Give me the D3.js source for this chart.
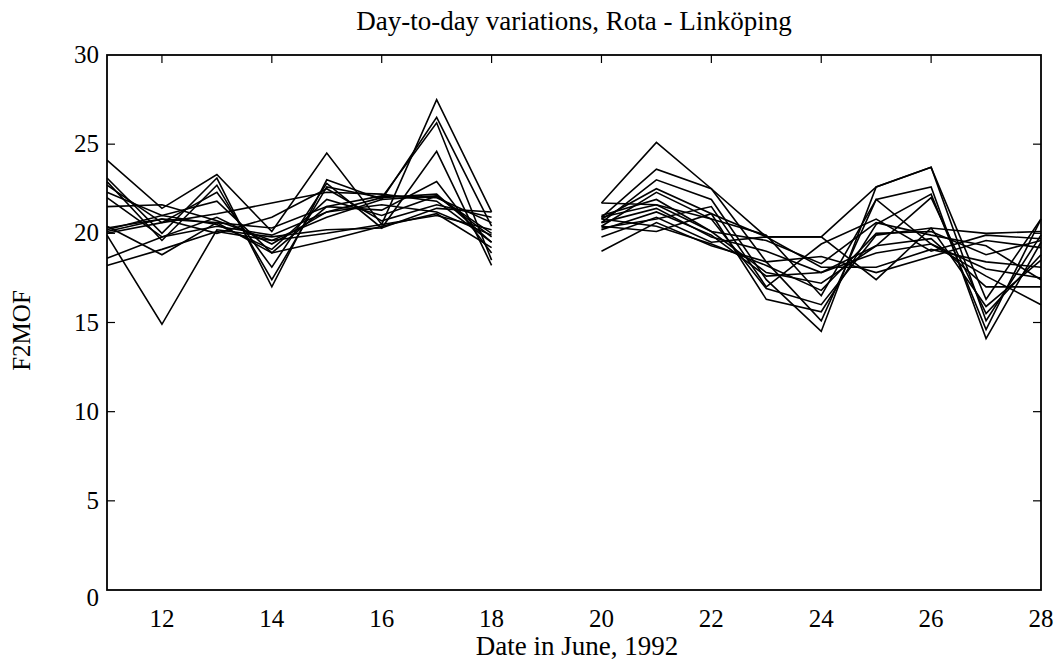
<!DOCTYPE html>
<html>
<head>
<meta charset="utf-8">
<script src="https://cdn.jsdelivr.net/npm/d3@7"></script>
<style>
  body { margin: 0; background: #fff; }
  text { font-family: "Liberation Serif", "DejaVu Serif", serif; fill: #000; }
</style>
</head>
<body>
<svg id="chart" width="1058" height="664"></svg>
<script>
const days = [11, 12, 13, 14, 15, 16, 17, 18, 19, 20, 21, 22, 23, 24, 25, 26, 27, 28];
const xTicks = [12, 14, 16, 18, 20, 22, 24, 26, 28];
const yTicks = [0, 5, 10, 15, 20, 25, 30];

// F2MOF per station pair, day 19 missing (null)
const s1 = [24.1, 21.4, 23.3, 20.1, 24.5, 20.5, 27.5, 21.2, null, 21.7, 25.1, 22.5, 19.8, 19.8, 22.6, 23.7, 16.3, 20.8];
const s2 = [23.1, 20.0, 23.1, 17.0, 23.0, 21.9, 26.5, 20.4, null, 20.9, 23.6, 22.5, 18.4, 15.1, 21.9, 22.6, 14.1, 19.5];
const s3 = [22.9, 19.6, 22.7, 17.4, 22.6, 22.0, 26.2, 18.5, null, 20.6, 23.0, 21.9, 17.4, 14.5, 22.6, 23.7, 15.1, 19.9];
const s4 = [22.7, 20.6, 22.3, 18.1, 22.8, 20.3, 24.6, 18.2, null, 20.8, 22.5, 21.1, 16.3, 15.6, 20.5, 22.2, 14.6, 20.8];
const s5 = [22.3, 21.0, 21.8, 18.9, 21.5, 21.3, 22.9, 18.9, null, 20.4, 22.3, 20.8, 16.9, 16.0, 19.9, 20.3, 15.9, 18.5];
const s6 = [22.0, 19.8, 20.9, 19.4, 21.2, 22.0, 22.2, 19.5, null, 21.7, 21.6, 20.1, 17.8, 17.2, 19.3, 19.7, 17.0, 17.0];
const s7 = [21.5, 21.6, 20.7, 19.6, 20.9, 21.9, 22.1, 19.8, null, 20.6, 21.4, 19.8, 19.0, 17.8, 18.9, 19.4, 17.6, 16.0];
const s8 = [20.3, 20.8, 20.6, 20.3, 21.5, 22.1, 22.0, 20.6, null, 19.8, 20.9, 19.5, 19.8, 18.1, 18.1, 19.1, 18.4, 18.1];
const s9 = [20.1, 20.8, 20.0, 20.9, 22.5, 20.7, 21.6, 20.9, null, 19.0, 20.6, 19.3, 18.4, 18.7, 17.8, 18.7, 19.6, 19.2];
const s10 = [19.9, 14.9, 20.2, 19.8, 20.2, 20.3, 21.4, 21.2, null, 20.4, 20.1, 21.1, 19.8, 19.8, 17.4, 20.3, 20.0, 20.1];
const s11 = [18.6, 19.8, 20.4, 19.9, 21.2, 21.6, 21.2, 19.9, null, 20.9, 21.6, 20.8, 19.9, 16.5, 21.9, 19.4, 18.0, 17.5];
const s12 = [18.2, 19.1, 20.1, 19.6, 20.0, 20.5, 21.0, 20.2, null, 20.2, 21.2, 19.9, 17.6, 17.8, 19.3, 22.0, 15.5, 18.8];
const s13 = [20.4, 18.8, 20.6, 18.9, 19.6, 20.4, 21.1, 19.2, null, 20.8, 20.4, 19.4, 18.2, 16.8, 20.0, 20.1, 18.8, 19.6];
const s14 = [20.2, 21.0, 20.5, 19.1, 21.9, 21.0, 22.1, 20.0, null, 21.0, 21.9, 20.1, 19.6, 18.3, 20.6, 19.9, 19.3, 17.4];
const s15 = [20.0, 20.6, 21.1, 21.7, 22.3, 22.2, 21.8, 19.5, null, 20.3, 20.8, 21.5, 17.0, 19.4, 20.8, 19.0, 19.9, 19.7];
const series = [s1, s2, s3, s4, s5, s6, s7, s8, s9, s10, s11, s12, s13, s14, s15];

const svg = d3.select("#chart");
const plotLeft = 107, plotRight = 1041, plotTop = 55, plotBottom = 590;
const fontSize = 25;
const labelSize = 27;

const x = d3.scaleLinear().domain([11, 28]).range([plotLeft, plotRight]);
const y = d3.scaleLinear().domain([0, 30]).range([plotBottom, plotTop]);

const line = d3.line()
    .defined((d) => d != null)
    .x((d, i) => x(days[i]))
    .y((d) => y(d));

svg.append("g")
    .selectAll("path")
    .data(series)
    .enter()
    .append("path")
    .attr("d", line)
    .attr("fill", "none")
    .attr("stroke", "#000")
    .attr("stroke-width", 1.6)
    .attr("stroke-linejoin", "miter");

// frame
svg.append("rect")
    .attr("x", plotLeft).attr("y", plotTop)
    .attr("width", plotRight - plotLeft).attr("height", plotBottom - plotTop)
    .attr("fill", "none")
    .attr("stroke", "#000")
    .attr("stroke-width", 1.8);

// inward ticks, MATLAB style
const tk = 8;
svg.append("g").selectAll("line")
    .data(xTicks.slice(0, -1))
    .enter().append("line")
    .attr("x1", (d) => x(d)).attr("x2", (d) => x(d))
    .attr("y1", plotTop).attr("y2", plotTop + tk)
    .attr("stroke", "#000").attr("stroke-width", 1.2);

svg.append("g").selectAll("line")
    .data(yTicks.slice(1, -1))
    .enter().append("line")
    .attr("x1", plotLeft).attr("x2", plotLeft + tk)
    .attr("y1", (d) => y(d)).attr("y2", (d) => y(d))
    .attr("stroke", "#000").attr("stroke-width", 1.2);

svg.append("g").selectAll("line")
    .data(yTicks.slice(1, -1))
    .enter().append("line")
    .attr("x1", plotRight).attr("x2", plotRight - tk)
    .attr("y1", (d) => y(d)).attr("y2", (d) => y(d))
    .attr("stroke", "#000").attr("stroke-width", 1.2);

// tick labels
svg.append("g").selectAll("text")
    .data(yTicks)
    .enter().append("text")
    .attr("x", plotLeft - 8)
    .attr("y", (d) => (d === 0 ? y(d) + 16 : y(d) + 8))
    .attr("text-anchor", "end")
    .attr("font-size", fontSize)
    .text((d) => d);

svg.append("g").selectAll("text")
    .data(xTicks)
    .enter().append("text")
    .attr("x", (d) => x(d))
    .attr("y", plotBottom + 37)
    .attr("text-anchor", "middle")
    .attr("font-size", fontSize)
    .text((d) => d);

svg.append("text")
    .attr("x", (plotLeft + plotRight) / 2)
    .attr("y", 30)
    .attr("text-anchor", "middle")
    .attr("font-size", labelSize)
    .text("Day-to-day variations, Rota - Linköping");

svg.append("text")
    .attr("x", (plotLeft + plotRight) / 2 + 3)
    .attr("y", 655)
    .attr("text-anchor", "middle")
    .attr("font-size", labelSize)
    .text("Date in June, 1992");

svg.append("text")
    .attr("transform", `translate(30, ${(plotTop + plotBottom) / 2 + 8}) rotate(-90)`)
    .attr("text-anchor", "middle")
    .attr("font-size", fontSize)
    .text("F2MOF");
</script>
</body>
</html>
